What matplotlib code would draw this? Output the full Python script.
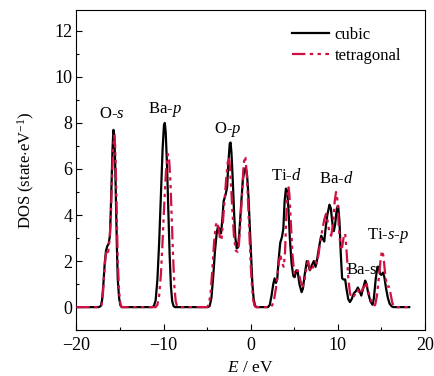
import matplotlib
matplotlib.use("Agg")
import matplotlib.pyplot as plt
from matplotlib.ticker import MultipleLocator

# ---- data ----
cubic_E = [-20, -17.4, -17.2, -17.05, -16.9, -16.75, -16.6, -16.45, -16.3, -16.15, -16.05, -15.95, -15.85, -15.75,
           -15.65, -15.55, -15.45, -15.35, -15.25, -15.1, -14.95, -14.8,
           -11.3, -11.1, -10.9, -10.7, -10.5, -10.3, -10.1, -9.95, -9.85, -9.75, -9.6, -9.45, -9.3, -9.15, -9.0, -8.85, -8.7,
           -4.9, -4.7, -4.5, -4.3, -4.1, -3.9, -3.75, -3.6, -3.4, -3.25, -3.1, -2.9, -2.7, -2.55, -2.4, -2.3, -2.2, -2.05,
           -1.9, -1.75, -1.6, -1.45, -1.3, -1.1, -0.9, -0.7, -0.55, -0.4, -0.25, -0.1, 0.05, 0.2, 0.35, 0.5, 0.65,
           2.0, 2.2, 2.4, 2.6, 2.75, 2.9, 3.05, 3.2, 3.4, 3.6, 3.75, 3.9, 4.05, 4.2, 4.35, 4.5, 4.7, 4.9, 5.05, 5.25, 5.4,
           5.6, 5.85, 6.0, 6.2, 6.45, 6.6, 6.8, 7.0, 7.25, 7.45, 7.6, 7.85, 8.1, 8.3, 8.45, 8.6, 8.8, 9.05, 9.2, 9.4, 9.55,
           9.7, 9.9, 10.05, 10.2, 10.35, 10.5, 10.65, 10.85, 11.0, 11.2, 11.4, 11.6, 11.85, 12.1, 12.3, 12.5, 12.7, 12.9,
           13.15, 13.3, 13.5, 13.75, 14.0, 14.15, 14.35, 14.55, 14.7, 14.85, 15.0, 15.2, 15.35, 15.55, 15.75, 15.95, 16.2,
           16.4, 18.2]
cubic_dos = [0, 0, 0.05, 0.3, 1.0, 1.9, 2.45, 2.65, 2.75, 3.1, 4.2, 5.6, 6.9, 7.7,
             7.5, 6.3, 4.5, 2.6, 1.2, 0.4, 0.08, 0,
             0, 0.05, 0.3, 1.2, 2.8, 4.9, 6.9, 7.9, 8.0, 7.6, 6.2, 4.2, 2.3, 0.9, 0.25, 0.05, 0,
             0, 0.05, 0.4, 1.3, 2.4, 3.2, 3.5, 3.4, 3.2, 3.8, 4.6, 4.85, 5.2, 6.3, 7.1, 7.15, 6.7, 5.5,
             4.1, 3.0, 2.55, 2.6, 3.2, 4.4, 5.5, 6.0, 6.05, 5.7, 4.8, 3.5, 2.1, 1.0, 0.35, 0.08, 0,
             0, 0.1, 0.5, 1.0, 1.25, 1.05, 1.2, 2.0, 2.8, 3.05, 3.4, 4.6, 5.15, 5.05, 4.2, 3.0, 1.9, 1.35, 1.3, 1.6, 1.55,
             1.0, 0.65, 0.8, 1.4, 2.0, 1.85, 1.6, 1.8, 2.0, 1.75, 2.0, 2.6, 3.1, 2.95, 2.85, 3.4, 4.0, 4.45, 4.3, 3.6, 3.3,
             3.6, 4.3, 4.4, 3.7, 2.3, 1.25, 1.2, 1.2, 0.8, 0.35, 0.22, 0.35, 0.6, 0.7, 0.85, 0.7, 0.5, 0.8,
             1.15, 1.0, 0.6, 0.25, 0.1, 0.4, 1.2, 1.75, 1.75, 1.45, 1.4, 1.5, 1.3, 0.8, 0.4, 0.15, 0.03,
             0, 0]

tetra_E = [-20, -17.3, -17.1, -16.95, -16.8, -16.65, -16.5, -16.35, -16.2, -16.05, -15.95, -15.8, -15.65, -15.55,
           -15.45, -15.35, -15.25, -15.1, -14.95, -14.8,
           -10.9, -10.7, -10.5, -10.3, -10.1, -9.9, -9.7, -9.5, -9.35, -9.2, -9.05, -8.9, -8.75, -8.6, -8.45, -8.3,
           -5.0, -4.8, -4.6, -4.4, -4.2, -4.0, -3.85, -3.7, -3.5, -3.35, -3.2, -3.0, -2.8, -2.6, -2.5, -2.4, -2.25, -2.1,
           -1.9, -1.7, -1.5, -1.35, -1.2, -1.0, -0.85, -0.7, -0.6, -0.45, -0.3, -0.15, 0.0, 0.15, 0.3, 0.45, 0.6,
           2.3, 2.5, 2.7, 2.9, 3.1, 3.3, 3.45, 3.6, 3.8, 3.95, 4.1, 4.25, 4.35, 4.45, 4.6, 4.8, 5.0, 5.2, 5.4, 5.55, 5.75,
           6.0, 6.2, 6.45, 6.6, 6.8, 7.0, 7.2, 7.4, 7.6, 7.8, 8.0, 8.2, 8.45, 8.65, 8.85, 9.05, 9.25, 9.45, 9.65, 9.8,
           9.95, 10.1, 10.3, 10.5, 10.7, 10.85, 11.0, 11.2, 11.4, 11.6, 11.8, 12.05, 12.3, 12.55, 12.8, 13.05, 13.3,
           13.5, 13.8, 14.1, 14.3, 14.5, 14.75, 14.95, 15.1, 15.25, 15.45, 15.65, 15.85, 16.05, 16.25, 16.45, 16.6, 18.2]
tetra_dos = [0, 0, 0.1, 0.6, 1.5, 2.2, 2.5, 2.4, 2.9, 3.8, 5.2, 6.8, 7.45, 7.0,
             5.6, 3.8, 2.0, 0.7, 0.15, 0,
             0, 0.1, 0.5, 1.4, 2.9, 4.6, 6.0, 6.65, 6.4, 5.4, 3.8, 2.2, 0.9, 0.25, 0.05, 0,
             0, 0.1, 0.6, 1.6, 2.8, 3.55, 3.7, 3.45, 2.95, 2.9, 3.6, 4.6, 5.6, 6.4, 6.5, 6.2, 5.3, 4.2,
             3.0, 2.45, 2.4, 2.7, 3.5, 4.8, 5.9, 6.55, 6.5, 5.8, 4.6, 3.2, 1.9, 0.9, 0.3, 0.06, 0,
             0, 0.1, 0.35, 0.8, 1.5, 2.1, 2.2, 1.9, 1.75, 2.4, 4.0, 5.0, 5.2, 4.9, 3.8, 2.3, 1.45, 1.4, 1.6, 1.45, 1.1,
             0.9, 1.2, 1.8, 2.0, 1.65, 1.55, 1.8, 2.0, 1.9, 2.3, 2.9, 3.3, 3.8, 4.05, 3.7, 3.2, 3.1, 3.6, 4.6, 5.0,
             4.7, 3.6, 2.6, 2.6, 3.1, 3.2, 2.5, 1.3, 0.6, 0.4, 0.45, 0.6, 0.75, 0.55, 0.75, 0.9, 1.0,
             0.7, 0.3, 0.05, 0.1, 0.5, 1.4, 2.2, 2.45, 2.2, 1.4, 0.9, 0.9, 0.6, 0.2, 0.03, 0, 0]

labels = ["O-$s$", "Ba-$p$", "O-$p$", "Ti-$d$", "Ba-$d$", "Ba-s", "Ti-$s$-$p$"]
label_E = [-15.9, -9.8, -2.6, 4.1, 9.8, 12.7, 15.8]
label_dos = [8.4, 8.6, 7.7, 5.7, 5.55, 1.6, 3.1]

series_names = ["cubic", "tetragonal"]

# ---- style ----
plt.rcParams["font.family"] = ["Liberation Serif", "DejaVu Serif"]
plt.rcParams["mathtext.fontset"] = "custom"
plt.rcParams["mathtext.rm"] = "Liberation Serif"
plt.rcParams["mathtext.it"] = "Liberation Serif:italic"
plt.rcParams["font.size"] = 12

red = "#d01040"

fig = plt.figure(figsize=(4.34, 3.76), dpi=100)
ax = fig.add_axes([0.176, 0.122, 0.803, 0.851])

ax.plot(cubic_E, cubic_dos, color="black", lw=1.6, label=series_names[0], zorder=2)
ax.plot(tetra_E, tetra_dos, color=red, lw=1.6, linestyle=(0, (6, 2, 1.5, 2, 1.5, 2)),
        label=series_names[1], zorder=3)

for t, x, y in zip(labels, label_E, label_dos):
    ax.text(x, y, t, ha="center", va="center", fontsize=12)

ax.set_xlim(-20, 20)
ax.set_ylim(-1, 12.9)
ax.xaxis.set_major_locator(MultipleLocator(10))
ax.xaxis.set_minor_locator(MultipleLocator(5))
ax.yaxis.set_major_locator(MultipleLocator(2))
ax.yaxis.set_minor_locator(MultipleLocator(1))
ax.tick_params(which="both", direction="in", top=False, right=False, labelsize=13)
ax.tick_params(axis="x", which="major", pad=5)
ax.tick_params(axis="y", which="major", pad=3)
ax.tick_params(which="major", length=4, width=0.8)
ax.tick_params(which="minor", length=2.5, width=0.8)
for s in ax.spines.values():
    s.set_linewidth(0.8)

ax.set_xlabel("$E$ / eV", labelpad=4, fontsize=12.5)
ax.set_ylabel("DOS (state$\\cdot$eV$^{-1}$)", labelpad=12, fontsize=12)

ax.legend(loc="upper right", frameon=False, handlelength=2.2, handletextpad=0.35,
          borderaxespad=0.4, fontsize=12, labelspacing=0.3, bbox_to_anchor=(0.97, 0.99))

fig.savefig("out.png", dpi=100)
